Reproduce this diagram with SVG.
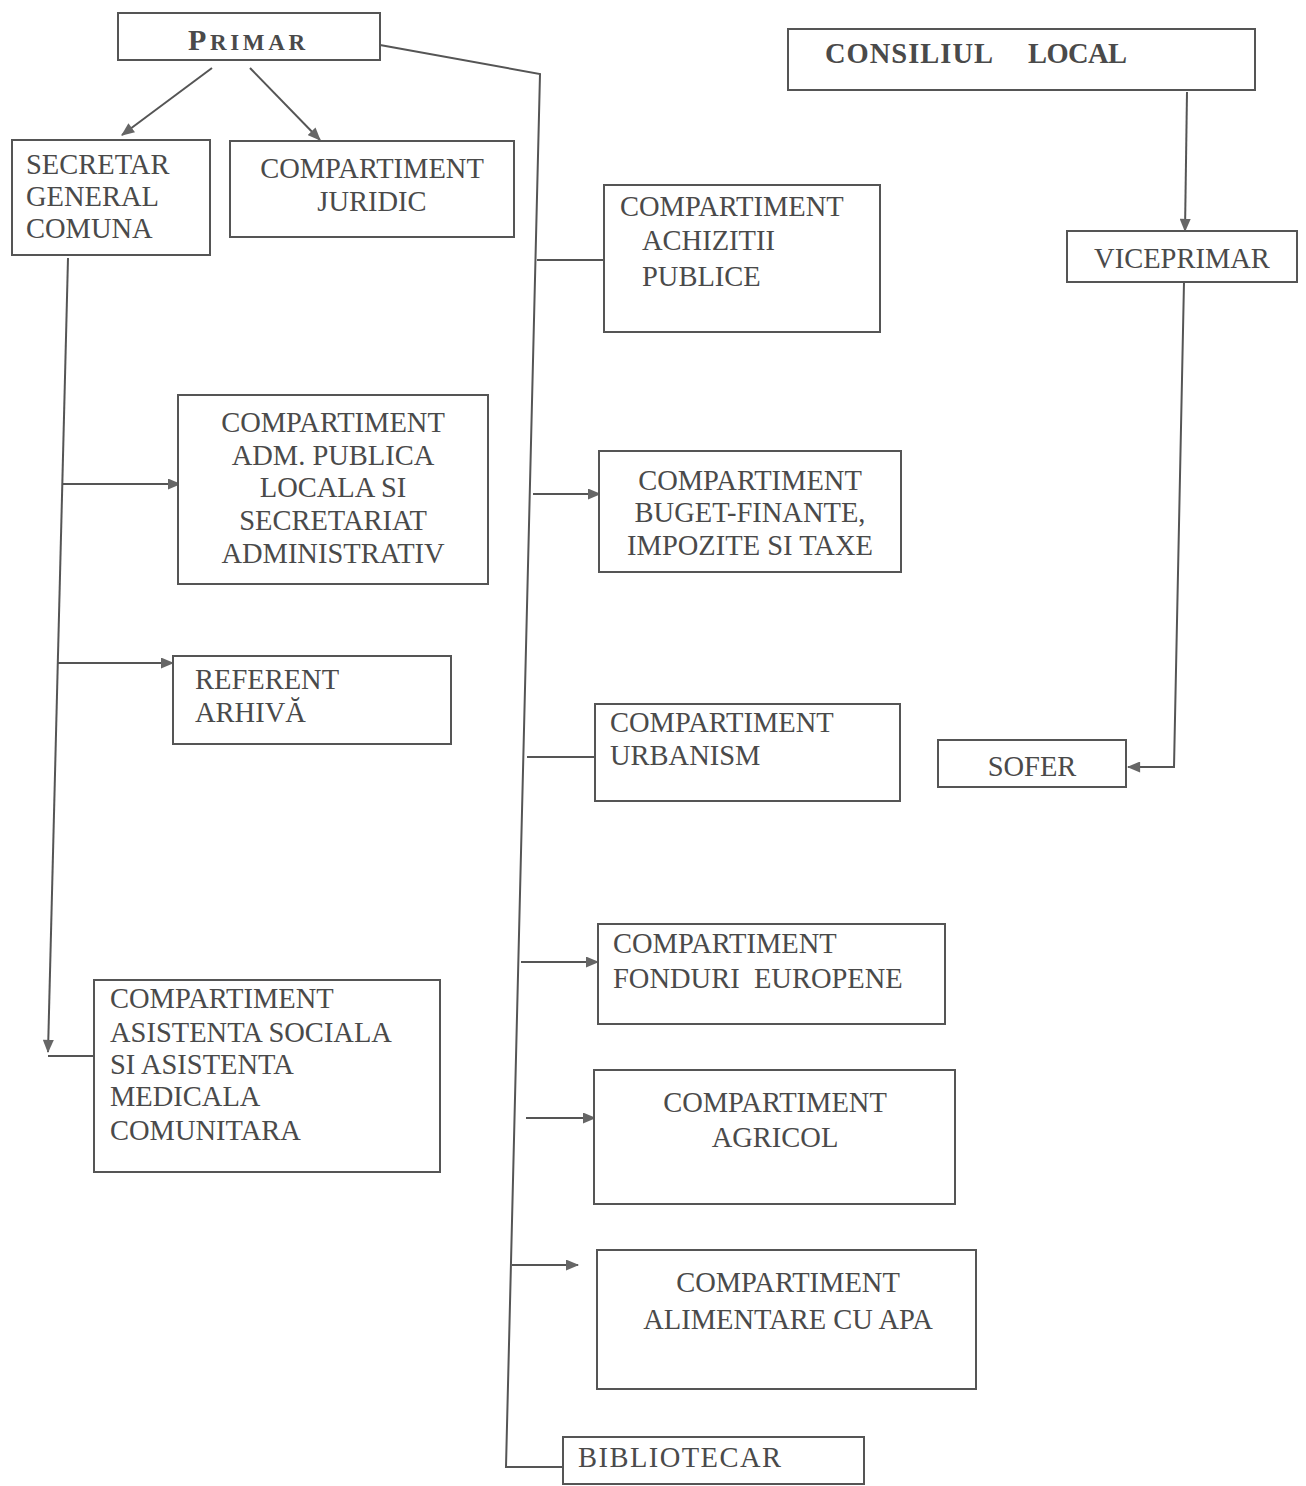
<svg xmlns="http://www.w3.org/2000/svg" width="1306" height="1486" viewBox="0 0 1306 1486">
<defs>
<style>
.box{fill:#fff;stroke:#555;stroke-width:2}
.t{font-family:"Liberation Serif","Times New Roman",serif;font-size:28.5px;fill:#4a4a4a}
.c{text-anchor:middle}
.b{font-weight:bold}
.pre{white-space:pre}
.ln{fill:none;stroke:#555;stroke-width:2}
</style>
<marker id="ah" viewBox="0 0 12 10" refX="11" refY="5" markerWidth="14" markerHeight="11" markerUnits="userSpaceOnUse" orient="auto">
<path d="M0,0 L12,5 L0,10 Z" fill="#666"/>
</marker>
</defs>
<rect width="1306" height="1486" fill="#fff"/>

<g id="connectors">
<line class="ln" x1="212" y1="68" x2="122" y2="135" marker-end="url(#ah)"/>
<line class="ln" x1="250" y1="68" x2="320" y2="140" marker-end="url(#ah)"/>
<polyline class="ln" points="380,45 540,74 506,1467 563,1467"/>
<line class="ln" x1="537" y1="260" x2="604" y2="260"/>
<line class="ln" x1="533" y1="494" x2="600" y2="494" marker-end="url(#ah)"/>
<line class="ln" x1="527" y1="757" x2="595" y2="757"/>
<line class="ln" x1="521" y1="962" x2="598" y2="962" marker-end="url(#ah)"/>
<line class="ln" x1="526" y1="1118" x2="595" y2="1118" marker-end="url(#ah)"/>
<line class="ln" x1="512" y1="1265" x2="578" y2="1265" marker-end="url(#ah)"/>
<line class="ln" x1="68" y1="258" x2="48" y2="1052" marker-end="url(#ah)"/>
<line class="ln" x1="48" y1="1056" x2="95" y2="1056"/>
<line class="ln" x1="62" y1="484" x2="180" y2="484" marker-end="url(#ah)"/>
<line class="ln" x1="58" y1="663" x2="173" y2="663" marker-end="url(#ah)"/>
<line class="ln" x1="1187" y1="92" x2="1185" y2="231" marker-end="url(#ah)"/>
<polyline class="ln" points="1184,282 1174,767 1128,767" marker-end="url(#ah)"/>
</g>

<g id="primar">
<rect class="box" x="118" y="13" width="262" height="47"/>
<text class="t b" x="188" y="50" textLength="117" lengthAdjust="spacing"><tspan font-size="30">P</tspan><tspan font-size="23">RIMAR</tspan></text>
</g>

<g id="consiliul-local">
<rect class="box" x="788" y="29" width="467" height="61"/>
<text class="t b" x="825" y="63" font-size="32" textLength="168" lengthAdjust="spacing">CONSILIUL</text>
<text class="t b" x="1028" y="63" font-size="32" textLength="99" lengthAdjust="spacing">LOCAL</text>
</g>

<g id="secretar">
<rect class="box" x="12" y="140" width="198" height="115"/>
<text class="t" x="26" y="174">SECRETAR</text>
<text class="t" x="26" y="206">GENERAL</text>
<text class="t" x="26" y="238">COMUNA</text>
</g>

<g id="juridic">
<rect class="box" x="230" y="141" width="284" height="96"/>
<text class="t c" x="372" y="178">COMPARTIMENT</text>
<text class="t c" x="372" y="211">JURIDIC</text>
</g>

<g id="achizitii">
<rect class="box" x="604" y="185" width="276" height="147"/>
<text class="t" x="620" y="216" font-size="31">COMPARTIMENT</text>
<text class="t" x="642" y="250" font-size="31">ACHIZITII</text>
<text class="t" x="642" y="286" font-size="31">PUBLICE</text>
</g>

<g id="viceprimar">
<rect class="box" x="1067" y="231" width="230" height="51"/>
<text class="t c" x="1182" y="268">VICEPRIMAR</text>
</g>

<g id="adm-publica">
<rect class="box" x="178" y="395" width="310" height="189"/>
<text class="t c" x="333" y="432">COMPARTIMENT</text>
<text class="t c" x="333" y="465">ADM. PUBLICA</text>
<text class="t c" x="333" y="497">LOCALA SI</text>
<text class="t c" x="333" y="530">SECRETARIAT</text>
<text class="t c" x="333" y="563">ADMINISTRATIV</text>
</g>

<g id="buget">
<rect class="box" x="599" y="451" width="302" height="121"/>
<text class="t c" x="750" y="490">COMPARTIMENT</text>
<text class="t c" x="750" y="522">BUGET-FINANTE,</text>
<text class="t c" x="750" y="555">IMPOZITE SI TAXE</text>
</g>

<g id="referent">
<rect class="box" x="173" y="656" width="278" height="88"/>
<text class="t" x="195" y="689">REFERENT</text>
<text class="t" x="195" y="722">ARHIVĂ</text>
</g>

<g id="urbanism">
<rect class="box" x="595" y="704" width="305" height="97"/>
<text class="t" x="610" y="732">COMPARTIMENT</text>
<text class="t" x="610" y="765">URBANISM</text>
</g>

<g id="sofer">
<rect class="box" x="938" y="740" width="188" height="47"/>
<text class="t c" x="1032" y="776">SOFER</text>
</g>

<g id="fonduri">
<rect class="box" x="598" y="924" width="347" height="100"/>
<text class="t" x="613" y="953">COMPARTIMENT</text>
<text class="t pre" x="613" y="988">FONDURI  EUROPENE</text>
</g>

<g id="asistenta">
<rect class="box" x="94" y="980" width="346" height="192"/>
<text class="t" x="110" y="1008">COMPARTIMENT</text>
<text class="t" x="110" y="1042">ASISTENTA SOCIALA</text>
<text class="t" x="110" y="1074">SI ASISTENTA</text>
<text class="t" x="110" y="1106">MEDICALA</text>
<text class="t" x="110" y="1140">COMUNITARA</text>
</g>

<g id="agricol">
<rect class="box" x="594" y="1070" width="361" height="134"/>
<text class="t c" x="775" y="1112">COMPARTIMENT</text>
<text class="t c" x="775" y="1147">AGRICOL</text>
</g>

<g id="alimentare">
<rect class="box" x="597" y="1250" width="379" height="139"/>
<text class="t c" x="788" y="1292">COMPARTIMENT</text>
<text class="t c" x="788" y="1329">ALIMENTARE CU APA</text>
</g>

<g id="bibliotecar">
<rect class="box" x="563" y="1437" width="301" height="47"/>
<text class="t" x="578" y="1467" font-size="31" textLength="203" lengthAdjust="spacing">BIBLIOTECAR</text>
</g>
</svg>
